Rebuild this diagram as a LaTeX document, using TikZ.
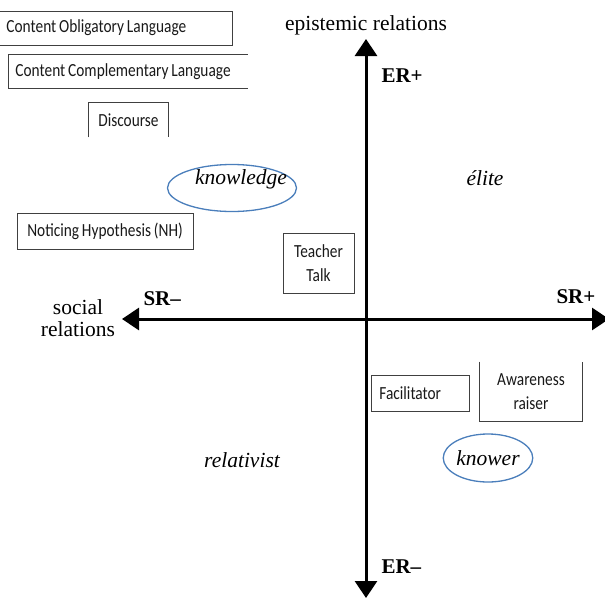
\documentclass[tikz,border=0pt]{standalone}
\usepackage{fontspec}
\setmainfont{Liberation Serif}
\newfontfamily\boxfont[FakeStretch=0.83,WordSpace=0.83]{Carlito}
\usetikzlibrary{arrows.meta,shapes.geometric}
\definecolor{ringblue}{RGB}{74,126,187}

\begin{document}
\begin{tikzpicture}[
x=1pt,y=-1pt,
box/.style={draw=black!75,line width=0.9pt,inner sep=0pt,font=\boxfont\fontsize{18.5}{24}\selectfont,text=black!90},
open/.style={box,draw=none},
edge/.style={draw=black!75,line width=0.9pt},
ring/.style={draw=ringblue,ellipse,line width=1.3pt,inner sep=0pt},
axis/.style={{Triangle[length=17pt,width=22pt]}-{Triangle[length=17pt,width=22pt]},line width=3pt},
lbl/.style={font=\fontsize{21.5}{22}\selectfont},
pole/.style={font=\bfseries\fontsize{21}{22}\selectfont,anchor=base west},
quad/.style={font=\itshape\fontsize{21.5}{22}\selectfont}
]
\useasboundingbox(0,0)rectangle(605,600);
%\draw[help lines,step=50](0,0)grid(605,600);

% axes
\coordinate(ertop)at(366,39);
\coordinate(erbot)at(366,598);
\coordinate(srleft)at(122,319);
\coordinate(srright)at(609,319);
\draw[axis](erbot)--(ertop);
\draw[axis](srleft)--(srright);

\node[lbl,anchor=base]at(366,30)(epi){epistemic relations};
\node[lbl,align=center]at(78,318)(soc){social\\relations};
\node[pole]at(378,82)(erplus){ER+};
\node[pole]at(378,573)(erminus){ER--};
\node[pole]at(140,305)(srminus){SR--};
\node[pole]at(553,303)(srplus){SR+};

% quadrants
\node[quad,anchor=base]at(485,185)(elite){élite};
\node[quad,anchor=base]at(242,467)(relativist){relativist};
\node[ring,minimum width=129pt,minimum height=47pt]at(232,188)(knowledgering){};
\node[quad,anchor=base]at(241,184)(knowledge){knowledge};
\node[ring,quad,minimum width=85pt,minimum height=48pt]at(488,458)(knower){knower};

% boxes
\node[box,anchor=west,align=flush left,text width=219pt,inner xsep=7pt,minimum height=34pt]at(-1,28)(col){Content Obligatory Language};
\node[open,anchor=west,align=flush left,text width=225pt,inner xsep=7pt,minimum height=33pt]at(8,71.5)(ccl){Content Complementary Language};
\draw[edge](ccl.north east)--(ccl.north west)--(ccl.south west)--(ccl.south east);
\node[open,minimum width=79pt,minimum height=34pt]at(128.5,120)(disc){Discourse};
\draw[edge](disc.south west)--(disc.north west)--(disc.north east)--(disc.south east);
\node[box,minimum width=176pt,minimum height=36pt]at(105,231)(nh){Noticing Hypothesis (NH)};
\node[box,align=center,minimum width=71pt,minimum height=60pt]at(318.5,263)(talk){Teacher\\Talk};
\node[box,anchor=west,align=flush left,text width=82pt,inner xsep=8pt,minimum height=36pt]at(371,393)(facil){Facilitator};
\node[open,align=center,minimum width=102pt,minimum height=59pt]at(531,391.5)(raiser){Awareness\\raiser};
\draw[edge](raiser.north west)--(raiser.south west)--(raiser.south east)--(raiser.north east);

\end{tikzpicture}
\end{document}
